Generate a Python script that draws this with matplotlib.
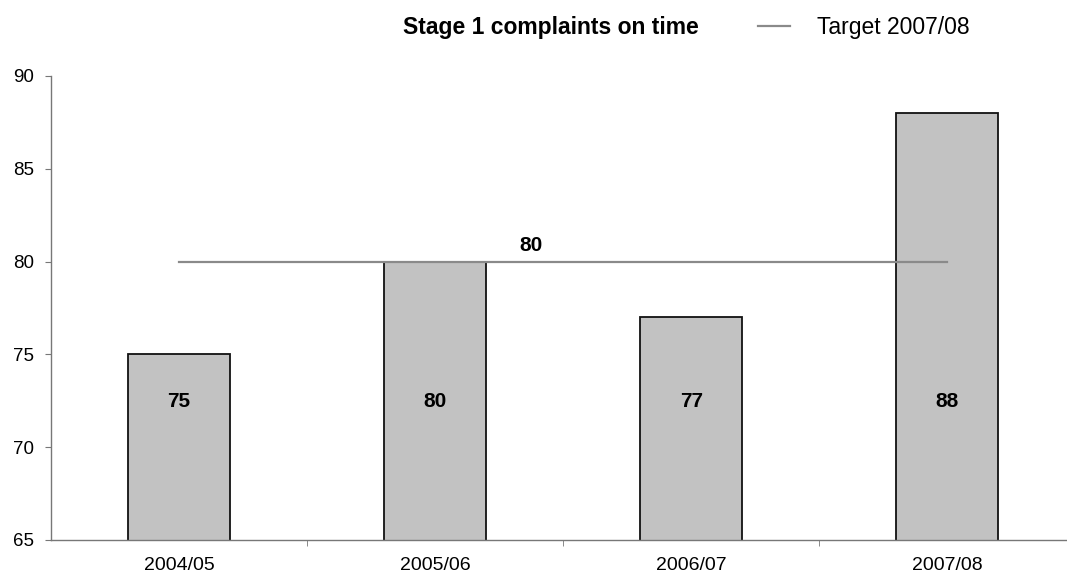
import matplotlib
matplotlib.use("Agg")
import matplotlib.pyplot as plt
import numpy as np

categories = ["2004/05", "2005/06", "2006/07", "2007/08"]
values = [75, 80, 77, 88]
target = 80
target_label = "80"
y_ticks = [65, 70, 75, 80, 85, 90]

plt.rcParams['font.family'] = ['Liberation Sans', 'DejaVu Sans']

fig = plt.figure(figsize=(10.67, 5.8), dpi=100)
ax = fig.add_axes([0.0478, 0.0690, 0.960, 0.800])

x = np.arange(len(categories))
ax.bar(x, values, width=0.40, color='#c2c2c2', edgecolor='#111111', linewidth=1.3, zorder=2)

for xi, v in zip(x, values):
    ax.text(xi, 72.45, str(v), ha='center', va='center', fontsize=15, fontweight='bold', zorder=4)

ax.plot([x[0], x[-1]], [target, target], color='#8a8a8a', linewidth=1.6, zorder=3)
ax.text(1.375, target + 0.35, target_label, ha='center', va='bottom', fontsize=15, fontweight='bold')

ax.set_xlim(-0.5, len(categories) - 0.5)
ax.set_ylim(65, 90)
ax.set_yticks(y_ticks)
ax.set_xticks(x)
ax.set_xticklabels(categories, fontsize=14)
ax.set_xticks(np.arange(0.5, len(categories) - 0.5, 1), minor=True)
ax.tick_params(axis='x', which='major', length=0, pad=12)
ax.tick_params(axis='x', which='minor', length=4, color='#777777', direction='out')
ax.tick_params(axis='y', length=4, color='#777777', labelsize=13.5, direction='out', pad=8)

for s in ['top', 'right']:
    ax.spines[s].set_visible(False)
for s in ['left', 'bottom']:
    ax.spines[s].set_color('#777777')
    ax.spines[s].set_linewidth(1.0)

fig.text(0.516, 0.953, "Stage 1 complaints on time", ha='center', va='center', fontsize=16.5, fontweight='bold')
fig.lines.append(plt.Line2D([0.710, 0.740], [0.956, 0.956], transform=fig.transFigure, color='#8a8a8a', linewidth=1.6))
fig.text(0.766, 0.953, "Target 2007/08", ha='left', va='center', fontsize=16.5)

fig.savefig("out.png", dpi=100, facecolor='white')
